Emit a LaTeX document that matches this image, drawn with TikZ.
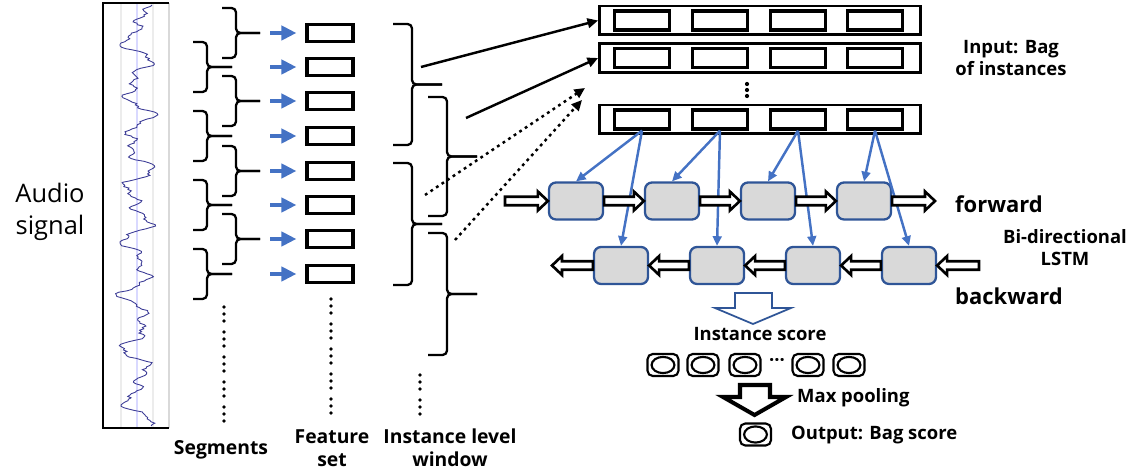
\documentclass[tikz,border=0pt]{standalone}
\usepackage{fontspec}
\setmainfont{Open Sans}
\usepackage{tikz}
\usetikzlibrary{arrows.meta,calc}

\definecolor{azul}{HTML}{4472C4}
\definecolor{azulesc}{HTML}{2F5597}
\definecolor{cinza}{HTML}{D9D9D9}
\definecolor{onda}{HTML}{3C3C96}

% chave: x, topo, base, gancho, ponta, nome da ponta
\newcommand{\chave}[6]{%
  \draw[chave] (#1-#4,#2) -- (#1,#2) -- (#1,{(#2+#3)/2}) -- (#1+#5,{(#2+#3)/2}) coordinate (#6);
  \draw[chave] (#1+#5,{(#2+#3)/2}) -- (#1,{(#2+#3)/2}) -- (#1,#3) -- (#1-#4,#3);}

\begin{document}
\begin{tikzpicture}[x=0.02cm, y=-0.02cm,
    chave/.style={line width=1.3pt, rounded corners=2.5pt},
    caixa/.style={draw, line width=1.8pt, inner sep=0pt, minimum width=0.92cm, minimum height=0.34cm},
    bolsa/.style={draw, line width=1.7pt, inner sep=0pt, minimum width=6.42cm, minimum height=0.58cm},
    inst/.style={draw, line width=1.9pt, inner sep=0pt, minimum width=1.1cm, minimum height=0.38cm},
    celula/.style={draw=azulesc, fill=cinza, line width=1.3pt, rounded corners=4pt, inner sep=0pt, minimum width=1.08cm, minimum height=0.74cm},
    nota/.style={draw, line width=1.2pt, rounded corners=3pt, inner sep=0pt, minimum width=0.62cm, minimum height=0.44cm,
        path picture={\draw[line width=1.2pt] (path picture bounding box.center) ellipse (6.5pt and 4.6pt);}},
    setaseg/.style={azul, line width=2.8pt, -{Triangle[length=8.5pt,width=8pt]}, shorten >=0.18cm},
    seta/.style={line width=1.4pt, -{Triangle[length=6pt,width=5.5pt]}},
    pontilhado/.style={dash pattern=on 1.6pt off 2.2pt},
    lig/.style={azul, line width=1.4pt, -{Triangle[length=5.5pt,width=5pt]}},
    oca/.style={draw=black, fill=white, line width=1.5pt, line join=miter,
        to path={let \p1=(\tikztostart), \p2=(\tikztotarget), \n1={sign(\x2-\x1)} in
            (\x1,\y1+2.4pt) -- ({\x2-(\n1)*5.7pt},\y1+2.4pt) -- ({\x2-(\n1)*5.7pt},\y1+5.4pt) -- (\x2,\y1)
            -- ({\x2-(\n1)*5.7pt},\y1-5.4pt) -- ({\x2-(\n1)*5.7pt},\y1-2.4pt) -- (\x1,\y1-2.4pt) -- cycle}},
    rotulo/.style={font=\bfseries\fontsize{10.5}{12.5}\selectfont, align=center},
    ]
    \useasboundingbox (0,0) rectangle (1135,472);

    % Sinal de audio
    \draw[gray!30, line width=0.6pt] (169,3) -- (169,428);
    \foreach \x in {121,153}
        \draw[gray!15, line width=0.6pt] (\x,3) -- (\x,428);
    \draw[blue!15, line width=0.6pt] (137,3) -- (137,428);
    \pgfmathsetseed{12}
    \draw[onda, line width=0.5pt] plot[domain=5:426, samples=300, variable=\t]
        ({137+10*sin(7*\t)+7*sin(13*\t+40)+4*sin(29*\t+10)+1.8*rand}, \t);
    \draw[line width=1.2pt] (169,3) -- (103,3) -- (103,428) -- (169,428);
    \node[font=\fontsize{14.5}{18}\selectfont, align=center] (audio) at (50,212) {Audio\\signal};

    % Segmentos
    \foreach \i/\y in {1/33,3/101,5/171,7/239}
        \chave{236}{\y-25}{\y+25}{14}{24}{t\i};
    \foreach \i/\y in {2/67,4/136,6/205,8/274}
        \chave{207}{\y-25}{\y+25}{14}{25}{t\i};

    % Vetores de caracteristicas
    \foreach \i/\y in {1/33,2/67,3/101,4/136,5/171,6/205,7/239,8/274} {
        \node[caixa] (f\i) at (330,\y) {};
        \coordinate (a\i) at (270,\y);
        \draw[setaseg] (a\i) -- (f\i);
    }

    % Pontos
    \foreach \k in {0,...,4}
        \foreach \d in {0,7,14} {
            \fill (224,307+25*\k+\d) circle (1.1pt);
            \fill (331,299+25*\k+\d) circle (1.1pt);
        }
    \foreach \k in {0,1}
        \foreach \d in {0,7,14}
            \fill (420,375+25*\k+\d) circle (1.1pt);

    % Janelas
    \chave{412}{24}{145}{19}{30}{c1};
    \chave{412}{163}{285}{19}{30}{c2};
    \chave{447}{97}{216}{19}{30}{d1};
    \chave{447}{233}{355}{19}{30}{d2};

    % Bolsa de instancias
    \foreach \b/\y in {1/20.5,2/58,3/119.5} {
        \node[bolsa] (bag\b) at (760,\y) {};
        \foreach \j/\x in {1/642,2/720,3/798,4/875}
            \node[inst] (bag\b-\j) at (\x,\y) {};
    }
    \foreach \y in {84,90,96}
        \fill (747,\y) circle (1.2pt);
    \node[rotulo] (entrada) at (1011,58) {Input: Bag\\of instances};

    % Setas das janelas
    \coordinate (w1) at (421,67);
    \coordinate (w2) at (466,118);
    \coordinate (w3) at (425,195);
    \coordinate (w4) at (455,240);
    \coordinate (p3) at (585,88);
    \coordinate (p4) at (582,100);
    \draw[seta] (w1) -- (bag1.west);
    \draw[seta] (w2) -- (bag2.west);
    \draw[seta, pontilhado] (w3) -- (p3);
    \draw[seta, pontilhado] (w4) -- (p4);

    % LSTM
    \foreach \j/\x in {1/576,2/672,3/768,4/864}
        \node[celula] (fw\j) at (\x,201) {};
    \foreach \j/\x in {1/621,2/717,3/813,4/909}
        \node[celula] (bw\j) at (\x,265.5) {};
    \foreach \j in {1,...,4} {
        \draw[lig] (bag3-\j.south) -- (fw\j.north);
        \draw[lig] (bag3-\j.south) -- (bw\j.north);
    }
    \coordinate (fw0) at (505,201);
    \coordinate (fw5) at (935,201);
    \coordinate (bw0) at (552,265.5);
    \coordinate (bw5) at (979,265.5);
    \draw[oca] (fw0) to (fw1.west);
    \draw[oca] (fw4.east) to (fw5);
    \draw[oca] (bw5) to (bw4.east);
    \draw[oca] (bw1.west) to (bw0);
    \foreach \j/\k in {1/2,2/3,3/4} {
        \draw[oca] (fw\j.east) to (fw\k.west);
        \draw[oca] (bw\k.west) to (bw\j.east);
    }
    \node[rotulo, font=\bfseries\fontsize{12.5}{15}\selectfont, anchor=west] (frente) at (949,204) {forward};
    \node[rotulo] (bilstm) at (1065,248) {Bi-directional\\LSTM};
    \node[rotulo, font=\bfseries\fontsize{12.5}{15}\selectfont, anchor=west] (tras) at (949,296) {backward};

    % Pontuacao
    \draw[azulesc, fill=white, line width=1pt] (735,293) -- (772,293) -- (772,308) -- (791,308)
        -- (753,324) -- (715,308) -- (735,308) -- cycle;
    \node[rotulo] (inscore) at (760,334) {Instance score};
    \foreach \k/\x in {1/663,2/703,3/745,4/808,5/849}
        \node[nota] (s\k) at (\x,365) {};
    \node[rotulo] (reticencias) at (777,362) {···};
    \draw[fill=white, line width=2.3pt, line join=miter] (740,385) -- (770,385) -- (770,397) -- (786,397)
        -- (754.5,415) -- (723,397) -- (740,397) -- cycle;
    \node[rotulo, anchor=west] (maxtxt) at (791,398) {Max pooling};
    \node[nota] (saida) at (755.5,434.5) {};
    \node[rotulo, anchor=west] (saidatxt) at (785,435) {Output: Bag score};

    % Legendas
    \node[rotulo, font=\bfseries\fontsize{11}{13.2}\selectfont] (segtxt) at (221,450) {Segments};
    \node[rotulo, font=\bfseries\fontsize{11}{13.2}\selectfont] (feattxt) at (332,448) {Feature\\set};
    \node[rotulo, font=\bfseries\fontsize{11}{13.2}\selectfont] (jantxt) at (450,448) {Instance level\\window};
\end{tikzpicture}
\end{document}
